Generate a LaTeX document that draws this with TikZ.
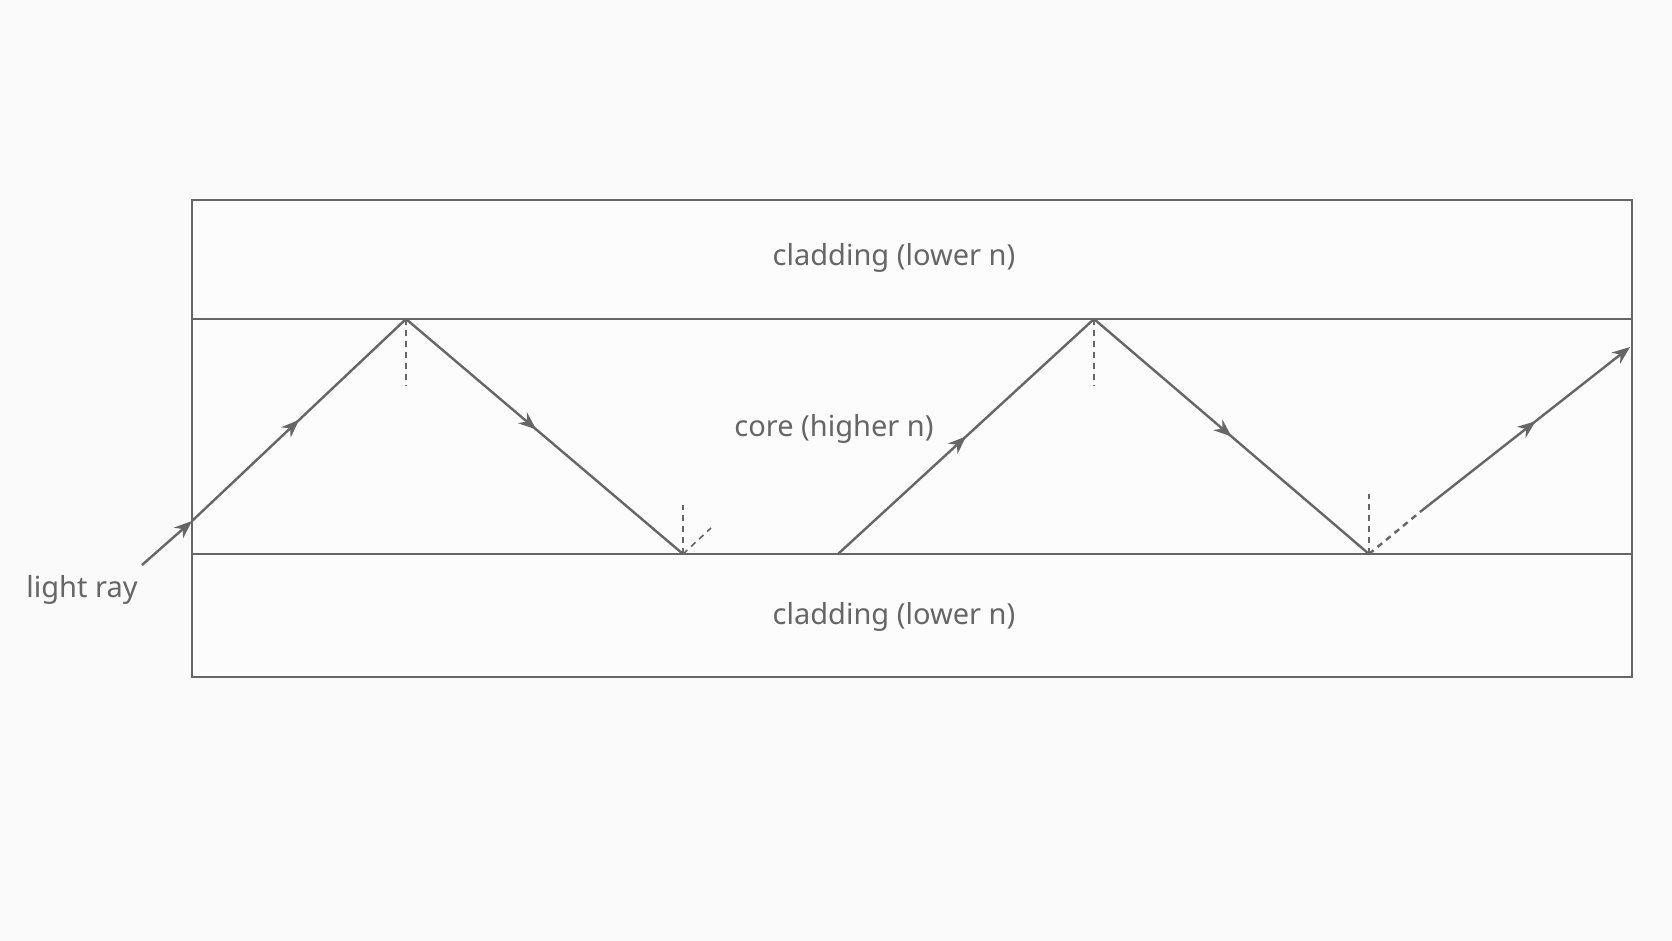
\documentclass[tikz,border=0pt]{standalone}
\usepackage{fontspec}
\setmainfont{Noto Sans}
\usetikzlibrary{arrows.meta,decorations.markings}
\definecolor{ink}{HTML}{666666}
\definecolor{bg}{HTML}{FAFAFA}
\begin{document}
\begin{tikzpicture}[x=1pt,y=-1pt,
  lbl/.style={font=\fontsize{29}{33}\selectfont,text=ink,inner sep=0},
  wall/.style={draw=ink,line width=2.6pt},
  ray/.style={draw=ink,line width=2.4pt},
  tip/.style={-{Stealth[length=18pt,width=14pt]}},
  mid/.style={postaction={decorate},decoration={markings,mark=at position #1 with {\arrow{Stealth[length=18pt,width=14pt]}}}},
  mid/.default=0.5,
  norm/.style={draw=ink,line width=1.6pt,dash pattern=on 6pt off 5pt}]
\fill[bg] (0,0) rectangle (1672,941);
\useasboundingbox (0,0) rectangle (1672,941);
\fill[white!50!bg] (192,200) rectangle (1632,677);
\draw[wall] (192,200) rectangle (1632,677);
\draw[wall] (192,319) -- (1632,319);
\draw[wall] (192,554) -- (1632,554);
\node[lbl] (c1) at (894,258) {cladding (lower n)};
\node[lbl] (core) at (834,429) {core (higher n)};
\node[lbl] (c2) at (894,617) {cladding (lower n)};
\node[lbl] (lr) at (82,590) {light ray};
\coordinate (s) at (142,565);
\coordinate (e) at (192,521);
\coordinate (p1) at (406,319);
\coordinate (p2) at (683,554);
\coordinate (p3) at (838,554);
\coordinate (p4) at (1094,319);
\coordinate (p5) at (1369,554);
\coordinate (p6) at (1420,512);
\coordinate (end) at (1630,347);
\draw[ray,tip] (s) -- (e);
\draw[ray,mid] (e) -- (p1);
\draw[ray,mid=0.47] (p1) -- (p2);
\draw[ray,mid] (p3) -- (p4);
\draw[ray,mid] (p4) -- (p5);
\draw[norm,line width=2.4pt] (p5) -- (p6);
\draw[ray,tip,mid=0.55] (p6) -- (end);
\draw[norm] (406,319) -- (406,386);
\draw[norm] (1094,319) -- (1094,386);
\draw[norm] (683,554) -- (683,505);
\draw[norm] (1369,554) -- (1369,494);
\draw[norm] (683,554) -- (711,528);
\end{tikzpicture}
\end{document}
